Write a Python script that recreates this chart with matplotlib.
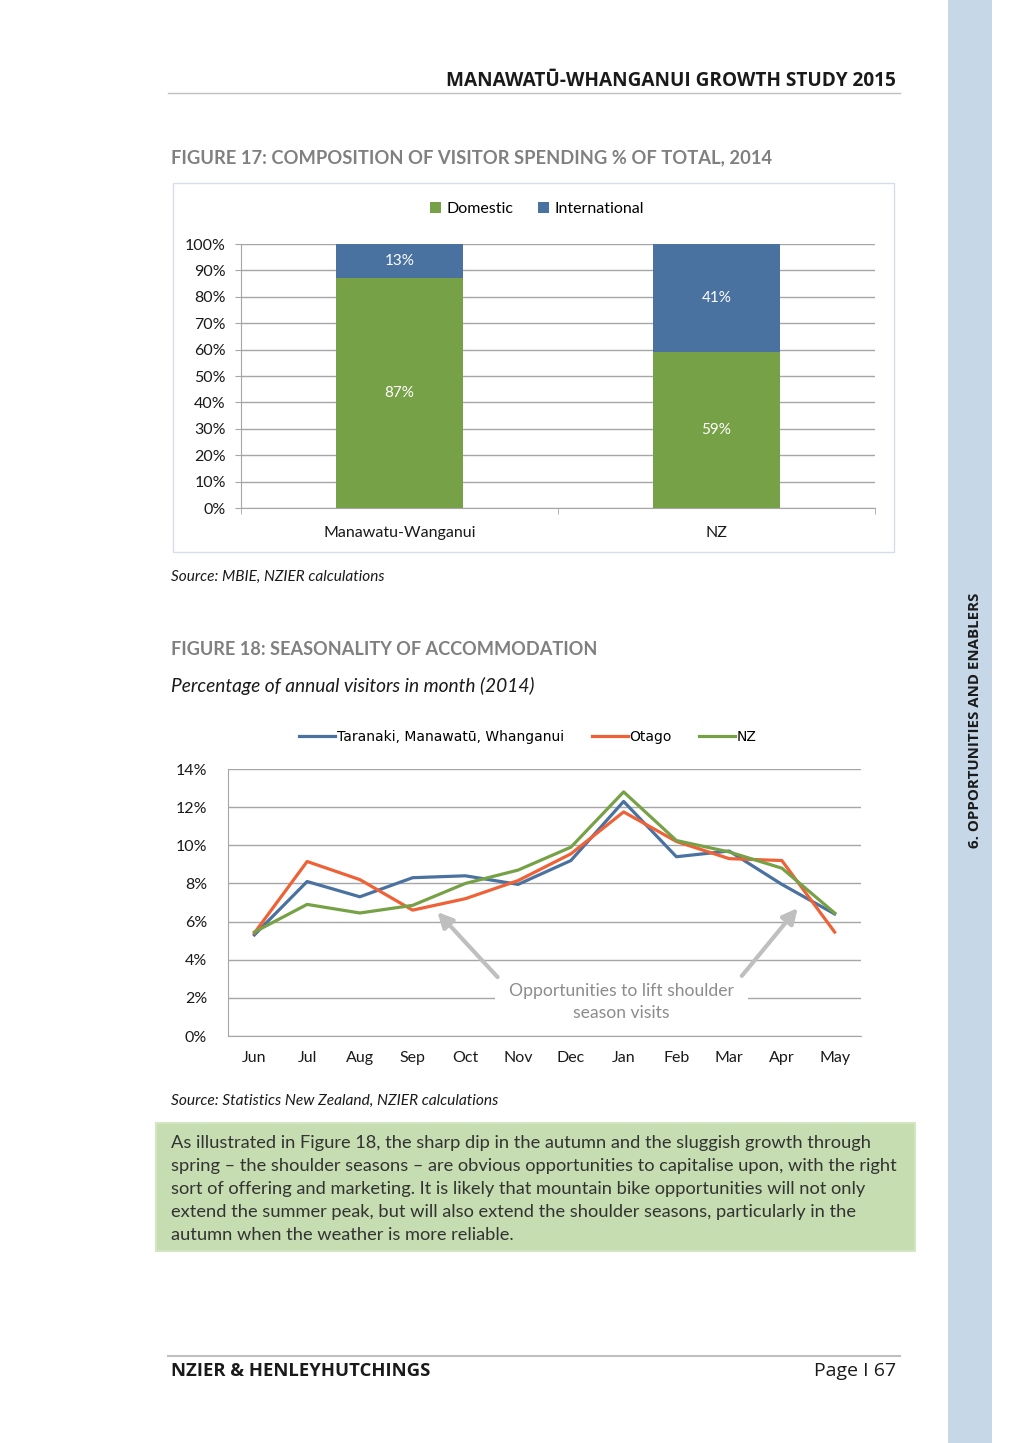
import matplotlib
matplotlib.use("Agg")
import matplotlib.pyplot as plt
from matplotlib.patches import Rectangle
from matplotlib.lines import Line2D
from matplotlib.ticker import FixedLocator, PercentFormatter
import numpy as np

# ---------------- data ----------------
bar_categories = ["Manawatu-Wanganui", "NZ"]
domestic = [87, 59]
international = [13, 41]

months = ["Jun", "Jul", "Aug", "Sep", "Oct", "Nov", "Dec", "Jan", "Feb", "Mar", "Apr", "May"]
taranaki = [5.3, 8.1, 7.3, 8.3, 8.4, 7.95, 9.2, 12.3, 9.4, 9.7, 7.95, 6.4]
otago = [5.4, 9.15, 8.2, 6.6, 7.2, 8.15, 9.55, 11.75, 10.2, 9.3, 9.2, 5.45]
nz = [5.45, 6.9, 6.45, 6.85, 8.0, 8.7, 9.9, 12.8, 10.25, 9.65, 8.8, 6.45]

# ---------------- style ----------------
BLUE = "#4A72A0"
GREEN = "#77A146"
ORANGE = "#EF6237"
GRID = "#A6A6A6"
TITLE_GREY = "#808080"
FONT = "Lato"

W, H = 1020, 1443
fig = plt.figure(figsize=(W / 100, H / 100), dpi=100)
renderer = fig.canvas.get_renderer()


def X(px):
    return px / W


def Y(py):
    return 1 - py / H


def fit(t, width):
    bb = t.get_window_extent(renderer)
    t.set_fontsize(t.get_fontsize() * width / bb.width)
    return t


# sidebar
fig.patches.append(Rectangle((X(948), 0), X(992) - X(948), 1, transform=fig.transFigure,
                             facecolor="#C6D8E8", edgecolor="none", zorder=0))
t = fig.text(X(975), Y(720), "6. OPPORTUNITIES AND ENABLERS", rotation=90, ha="center",
             va="center", fontsize=10, fontweight="bold", family="Open Sans", color="#1a1a1a")
bb = t.get_window_extent(renderer)
t.set_fontsize(10 * 255 / bb.height)

# header
t = fig.text(X(896), Y(86), "MANAWATŪ-WHANGANUI GROWTH STUDY 2015", ha="right", va="baseline",
             fontsize=12, fontweight="bold", family="Open Sans", color="#1a1a1a")
fit(t, 448)
fig.add_artist(Line2D([X(168), X(900)], [Y(93), Y(93)], color="#BFBFBF", lw=1))

# Figure 17 title
t = fig.text(X(171), Y(163), "FIGURE 17: COMPOSITION OF VISITOR SPENDING % OF TOTAL, 2014",
             ha="left", va="baseline", fontsize=13, fontweight="bold", family=FONT, color=TITLE_GREY)
fit(t, 599)

# chart 1 frame
fig.patches.append(Rectangle((X(173), Y(552)), X(894) - X(173), Y(183) - Y(552),
                             transform=fig.transFigure, facecolor="none", edgecolor="#D5DEE9",
                             lw=1, zorder=1))

# ---------------- chart 1 ----------------
ax1 = fig.add_axes([X(241), Y(508), X(875) - X(241), Y(244) - Y(508)])
xpos = np.arange(len(bar_categories))
bw = 0.4
b1 = ax1.bar(xpos, domestic, bw, color=GREEN, label="Domestic", zorder=3)
b2 = ax1.bar(xpos, international, bw, bottom=domestic, color=BLUE, label="International", zorder=3)
for i in range(len(bar_categories)):
    ax1.text(xpos[i], domestic[i] / 2, f"{domestic[i]}%", ha="center", va="center",
             color="white", fontsize=11, family=FONT, zorder=4)
    ax1.text(xpos[i], domestic[i] + international[i] / 2, f"{international[i]}%", ha="center",
             va="center", color="white", fontsize=11, family=FONT, zorder=4)
ax1.set_xlim(-0.5, 1.5)
ax1.set_ylim(0, 100)
ax1.set_yticks(np.arange(0, 101, 10))
ax1.yaxis.set_major_formatter(PercentFormatter(decimals=0))
ax1.grid(axis="y", color=GRID, lw=1, zorder=0)
ax1.set_xticks(xpos)
ax1.set_xticklabels(bar_categories)
ax1.xaxis.set_minor_locator(FixedLocator([-0.5, 0.5, 1.5]))
ax1.tick_params(axis="x", which="major", length=0, pad=13, labelsize=11.5)
ax1.tick_params(axis="x", which="minor", length=4, color=GRID, direction="out")
ax1.tick_params(axis="y", length=4, color=GRID, pad=7, labelsize=11.5)
for lab in ax1.get_xticklabels() + ax1.get_yticklabels():
    lab.set_family(FONT)
    lab.set_color("#1a1a1a")
for s in ["top", "right"]:
    ax1.spines[s].set_visible(False)
for s in ["left", "bottom"]:
    ax1.spines[s].set_color(GRID)
ax1.set_axisbelow(True)
fig.legend(handles=[b1, b2], loc="center", bbox_to_anchor=(X(537), Y(209)), ncol=2,
           frameon=False, prop={"family": FONT, "size": 11.5}, handlelength=0.7,
           handleheight=0.7, handletextpad=0.35, columnspacing=1.5)

# source 1
t = fig.text(X(171), Y(581), "Source: MBIE, NZIER calculations", ha="left", va="baseline",
             fontsize=10, style="italic", family=FONT, color="#1a1a1a")
fit(t, 214)

# Figure 18 titles
t = fig.text(X(171), Y(655), "FIGURE 18: SEASONALITY OF ACCOMMODATION", ha="left", va="baseline",
             fontsize=13, fontweight="bold", family=FONT, color=TITLE_GREY)
fit(t, 427)
t = fig.text(X(171), Y(692), "Percentage of annual visitors in month (2014)", ha="left",
             va="baseline", fontsize=12, style="italic", family=FONT, color="#1a1a1a")
fit(t, 362)

# ---------------- chart 2 ----------------
ax2 = fig.add_axes([X(228), Y(1036), X(861) - X(228), Y(769) - Y(1036)])
xm = np.arange(len(months))
l1, = ax2.plot(xm, taranaki, color=BLUE, lw=2.3, label="Taranaki, Manawatū, Whanganui", zorder=3)
l2, = ax2.plot(xm, otago, color=ORANGE, lw=2.3, label="Otago", zorder=3)
l3, = ax2.plot(xm, nz, color=GREEN, lw=2.3, label="NZ", zorder=4)
ax2.set_xlim(-0.5, 11.5)
ax2.set_ylim(0, 14)
ax2.set_yticks(np.arange(0, 15, 2))
ax2.yaxis.set_major_formatter(PercentFormatter(decimals=0))
ax2.set_xticks(xm)
ax2.set_xticklabels(months)
ax2.grid(axis="y", color=GRID, lw=1, zorder=0)
ax2.tick_params(axis="both", length=0, labelsize=11.5)
ax2.tick_params(axis="y", pad=15)
ax2.tick_params(axis="x", pad=11)
for lab in ax2.get_xticklabels() + ax2.get_yticklabels():
    lab.set_family(FONT)
    lab.set_color("#1a1a1a")
for s in ["top", "right"]:
    ax2.spines[s].set_visible(False)
for s in ["left", "bottom"]:
    ax2.spines[s].set_color(GRID)
ax2.set_axisbelow(True)

fig.legend(handles=[l1, l2, l3], loc="center", bbox_to_anchor=(X(528), Y(737)), ncol=3,
           frameon=False, prop={"family": "DejaVu Sans", "size": 10}, handlelength=2.6,
           handletextpad=0.1, columnspacing=2.0)

# annotation
ax2.text(6.96, 1.8, "Opportunities to lift shoulder\nseason visits", ha="center", va="center",
         fontsize=12.6, family=FONT, color="#8C8C8C", linespacing=1.45, zorder=5,
         bbox=dict(facecolor="white", edgecolor="none", pad=10))
arrow_kw = dict(arrowstyle="-|>,head_length=0.9,head_width=0.45", color="#BFBFBF", lw=3,
                shrinkA=0, shrinkB=0)
ax2.annotate("", xy=(3.47, 6.5), xytext=(4.61, 3.09), arrowprops=arrow_kw, zorder=5)
ax2.annotate("", xy=(10.3, 6.71), xytext=(9.24, 3.15), arrowprops=arrow_kw, zorder=5)

# source 2
t = fig.text(X(171), Y(1105), "Source: Statistics New Zealand, NZIER calculations", ha="left",
             va="baseline", fontsize=10, style="italic", family=FONT, color="#1a1a1a")
fit(t, 328)

# body box
fig.patches.append(Rectangle((X(156), Y(1251)), X(915) - X(156), Y(1123) - Y(1251),
                             transform=fig.transFigure, facecolor="#C6DDB1",
                             edgecolor="#D3E5C3", lw=1.5, zorder=0))
body = [
    "As illustrated in Figure 18, the sharp dip in the autumn and the sluggish growth through",
    "spring \u2013 the shoulder seasons \u2013 are obvious opportunities to capitalise upon, with the right",
    "sort of offering and marketing. It is likely that mountain bike opportunities will not only",
    "extend the summer peak, but will also extend the shoulder seasons, particularly in the",
    "autumn when the weather is more reliable.",
]
t0 = fig.text(X(171), Y(1148), body[0], ha="left", va="baseline", fontsize=12, family=FONT,
              color="#333333")
fit(t0, 698)
fs = t0.get_fontsize()
for i, line in enumerate(body[1:], start=1):
    fig.text(X(171), Y(1148 + 23 * i), line, ha="left", va="baseline", fontsize=fs,
             family=FONT, color="#333333")

# footer
fig.add_artist(Line2D([X(168), X(900)], [Y(1356), Y(1356)], color="#BFBFBF", lw=1.5))
t = fig.text(X(171), Y(1376), "NZIER & HENLEYHUTCHINGS", ha="left", va="baseline", fontsize=12,
             fontweight="bold", family="Open Sans", color="#1a1a1a")
fit(t, 258)
t = fig.text(X(896), Y(1376), "Page I 67", ha="right", va="baseline", fontsize=12,
             family="Open Sans", color="#1a1a1a")
fit(t, 82)

fig.savefig("out.png", dpi=100)
